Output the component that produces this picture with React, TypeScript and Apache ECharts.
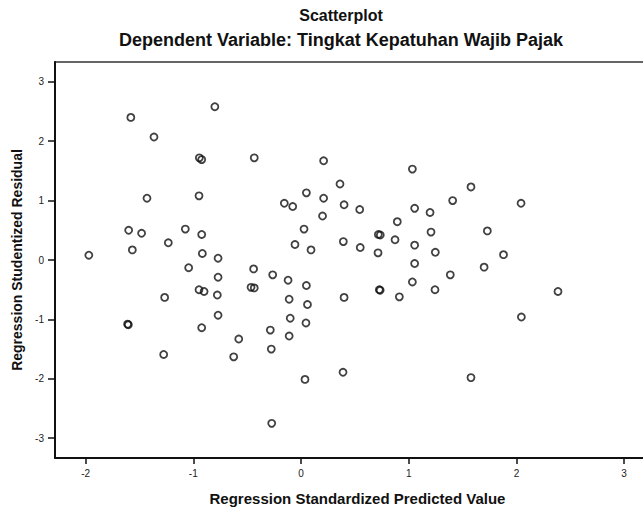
import React, { useEffect, useRef } from "react";
import * as echarts from "echarts";

const chartTitle = "Scatterplot";
const chartSubtitle = "Dependent Variable: Tingkat Kepatuhan Wajib Pajak";
const xAxisTitle = "Regression Standardized Predicted Value";
const yAxisTitle = "Regression Studentized Residual";

const xTicks = [-2, -1, 0, 1, 2, 3];
const yTicks = [-3, -2, -1, 0, 1, 2, 3];

const predicted = [
  -1.97, -1.58, -1.365, -1.43, -0.944, -0.922, -0.947, -0.8, -1.6, -1.48,
  -1.074, -0.922, -1.566, -1.232, -0.916, -0.77, -1.043, -0.77, -0.947, -0.9,
  -0.777, -1.266, -0.77, -1.61, -1.603, -0.922, -1.275, -0.434, 0.21, 1.034,
  0.362, 0.05, -0.155, -0.077, 0.21, 0.4, 0.545, 0.2, 1.055, 0.894,
  0.028, 0.718, 0.736, 0.873, -0.056, 0.093, 0.393, 0.55, 0.715, 1.055,
  1.055, -0.44, -0.263, -0.12, 0.05, -0.464, -0.434, -0.11, 0.06, -0.1,
  0.046, -0.285, -0.11, -0.578, -0.276, -0.625, 0.037, 0.39, -0.272, 0.4,
  0.727, 0.735, 0.913, 1.034, 1.578, 1.408, 2.043, 1.198, 1.207, 1.73,
  1.247, 1.88, 1.7, 1.386, 1.244, 2.386, 2.046, 1.578,
];

const residual = [
  0.08, 2.4, 2.07, 1.04, 1.72, 1.69, 1.08, 2.58, 0.5, 0.45,
  0.52, 0.43, 0.17, 0.29, 0.11, 0.03, -0.13, -0.29, -0.5, -0.53,
  -0.59, -0.63, -0.93, -1.08, -1.09, -1.14, -1.59, 1.72, 1.67, 1.53,
  1.28, 1.13, 0.955, 0.9, 1.04, 0.93, 0.85, 0.74, 0.87, 0.645,
  0.52, 0.43, 0.42, 0.34, 0.26, 0.17, 0.31, 0.21, 0.12, 0.25,
  -0.06, -0.15, -0.25, -0.34, -0.43, -0.46, -0.47, -0.66, -0.75, -0.98,
  -1.06, -1.18, -1.28, -1.33, -1.5, -1.63, -2.01, -1.89, -2.75, -0.63,
  -0.5, -0.51, -0.62, -0.37, 1.23, 1.0, 0.955, 0.8, 0.47, 0.49,
  0.13, 0.09, -0.12, -0.25, -0.5, -0.53, -0.96, -1.98,
];

const FONT = "'Liberation Sans', Arial, sans-serif";

export default function App() {
  const ref = useRef<HTMLDivElement>(null);

  useEffect(() => {
    if (!ref.current) return;
    const chart = echarts.init(ref.current, undefined, { renderer: "svg" });
    const points = predicted.map((x, i) => [x, residual[i]]);
    chart.setOption({
      animation: false,
      backgroundColor: "#fff",
      textStyle: { fontFamily: FONT },
      title: [
        {
          text: chartTitle,
          left: 341,
          top: 7,
          textAlign: "center",
          padding: 0,
          textStyle: { fontFamily: FONT, fontSize: 16, fontWeight: "bold", color: "#111" },
        },
        {
          text: chartSubtitle,
          left: 341,
          top: 31,
          textAlign: "center",
          padding: 0,
          textStyle: { fontFamily: FONT, fontSize: 18, fontWeight: "bold", color: "#111" },
        },
      ],
      grid: {
        left: 55,
        top: 62,
        right: 0,
        bottom: 49,
        show: true,
        borderColor: "#333",
        borderWidth: 1.5,
        backgroundColor: "#fff",
      },
      xAxis: {
        type: "value",
        min: -2.284,
        max: 3.333,
        name: xAxisTitle,
        nameLocation: "middle",
        nameGap: 33,
        nameTextStyle: { fontFamily: FONT, fontSize: 15, fontWeight: "bold", color: "#111" },
        axisLine: { show: true, onZero: false, lineStyle: { color: "#111", width: 2 } },
        axisTick: {
          show: true,
          customValues: xTicks,
          length: 6,
          lineStyle: { color: "#111", width: 1.5 },
        },
        axisLabel: {
          customValues: xTicks,
          margin: 10,
          fontFamily: FONT,
          fontSize: 10,
          color: "#222",
        },
        splitLine: { show: false },
      },
      yAxis: {
        type: "value",
        min: -3.333,
        max: 3.333,
        name: yAxisTitle,
        nameLocation: "middle",
        nameGap: 28,
        nameRotate: 90,
        nameTextStyle: { fontFamily: FONT, fontSize: 14, fontWeight: "bold", color: "#111" },
        axisLine: { show: true, onZero: false, lineStyle: { color: "#111", width: 2 } },
        axisTick: {
          show: true,
          customValues: yTicks,
          length: 7,
          lineStyle: { color: "#111", width: 1.5 },
        },
        axisLabel: {
          customValues: yTicks,
          margin: 11,
          fontFamily: FONT,
          fontSize: 10,
          color: "#222",
        },
        splitLine: { show: false },
      },
      series: [
        {
          type: "scatter",
          data: points,
          symbol: "circle",
          symbolSize: 7,
          itemStyle: { color: "transparent", borderColor: "#111", borderWidth: 1.8 },
          emphasis: { disabled: true },
        },
      ],
    });
    return () => chart.dispose();
  }, []);

  return (
    <div
      ref={ref}
      style={{ position: "fixed", left: 0, top: 0, width: 660, height: 511 }}
    />
  );
}
